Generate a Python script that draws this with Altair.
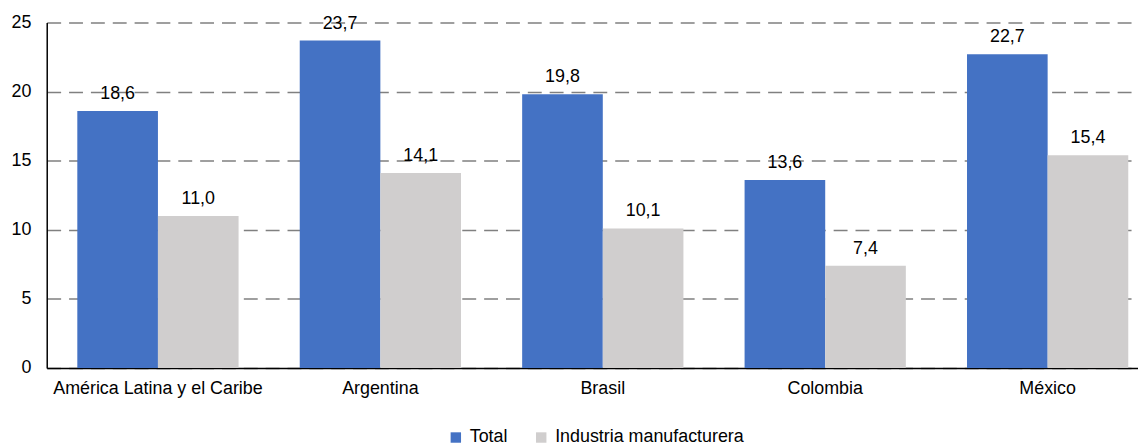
import altair as alt
import pandas as pd

categories = ["América Latina y el Caribe", "Argentina", "Brasil", "Colombia", "México"]
series = ["Total", "Industria manufacturera"]
total_values = [18.6, 23.7, 19.8, 13.6, 22.7]
industria_values = [11.0, 14.1, 10.1, 7.4, 15.4]
colors = ["#4472C4", "#D0CECE"]
y_ticks = [0, 5, 10, 15, 20, 25]

rows = []
for c, t, i in zip(categories, total_values, industria_values):
    rows.append({"pais": c, "serie": series[0], "valor": t})
    rows.append({"pais": c, "serie": series[1], "valor": i})
df = pd.DataFrame(rows)
df["etiqueta"] = df["valor"].map(lambda v: f"{v:.1f}".replace(".", ","))

FONT = "Liberation Sans"

x_enc = alt.X(
    "pais:N",
    sort=categories,
    title=None,
    scale=alt.Scale(paddingInner=0.275, paddingOuter=0.1375, range=[0, 1120]),
    axis=alt.Axis(labelAngle=0, labelFontSize=18, labelPadding=12, ticks=False,
                  labelLimit=0,
                  domainColor="#000000", domainWidth=1.5, labelColor="#000000",
                  labelFont=FONT, grid=False),
)
xoff = alt.XOffset("serie:N", sort=series, scale=alt.Scale(paddingInner=0, paddingOuter=0))
y_enc = alt.Y(
    "valor:Q",
    title=None,
    scale=alt.Scale(domain=[0, 25], nice=False),
    axis=alt.Axis(values=y_ticks, labelFontSize=18, labelPadding=16, ticks=False,
                  domainColor="#000000", domainWidth=1.5, labelColor="#000000",
                  labelFont=FONT, grid=True, gridColor="#808080", gridWidth=1.5,
                  gridDash=[14, 8]),
)

bars = alt.Chart(df).mark_bar().encode(
    x=x_enc,
    xOffset=xoff,
    y=y_enc,
    color=alt.Color(
        "serie:N",
        sort=series,
        scale=alt.Scale(domain=series, range=colors),
        legend=alt.Legend(
            title=None, orient="none", direction="horizontal",
            legendX=403, legendY=409, symbolType="square", symbolSize=110,
            symbolStrokeWidth=0, labelFontSize=18, labelFont=FONT,
            labelColor="#000000", labelOffset=5, columnPadding=24, padding=0,
            labelLimit=0,
        ),
    ),
)

labels = alt.Chart(df).mark_text(
    baseline="middle", dy=-17, fontSize=18, font=FONT, color="#000000"
).encode(
    x=alt.X("pais:N", sort=categories),
    xOffset=alt.XOffset("serie:N", sort=series),
    y="valor:Q",
    text="etiqueta:N",
)

chart = alt.layer(bars, labels).properties(
    width=1099,
    height=348,
    autosize=alt.AutoSizeParams(type="none"),
    padding={"left": 39, "top": 13, "right": 0, "bottom": 80},
).configure_view(stroke=None)

chart.save("out.html", embed_options={"renderer": "svg", "actions": False})
